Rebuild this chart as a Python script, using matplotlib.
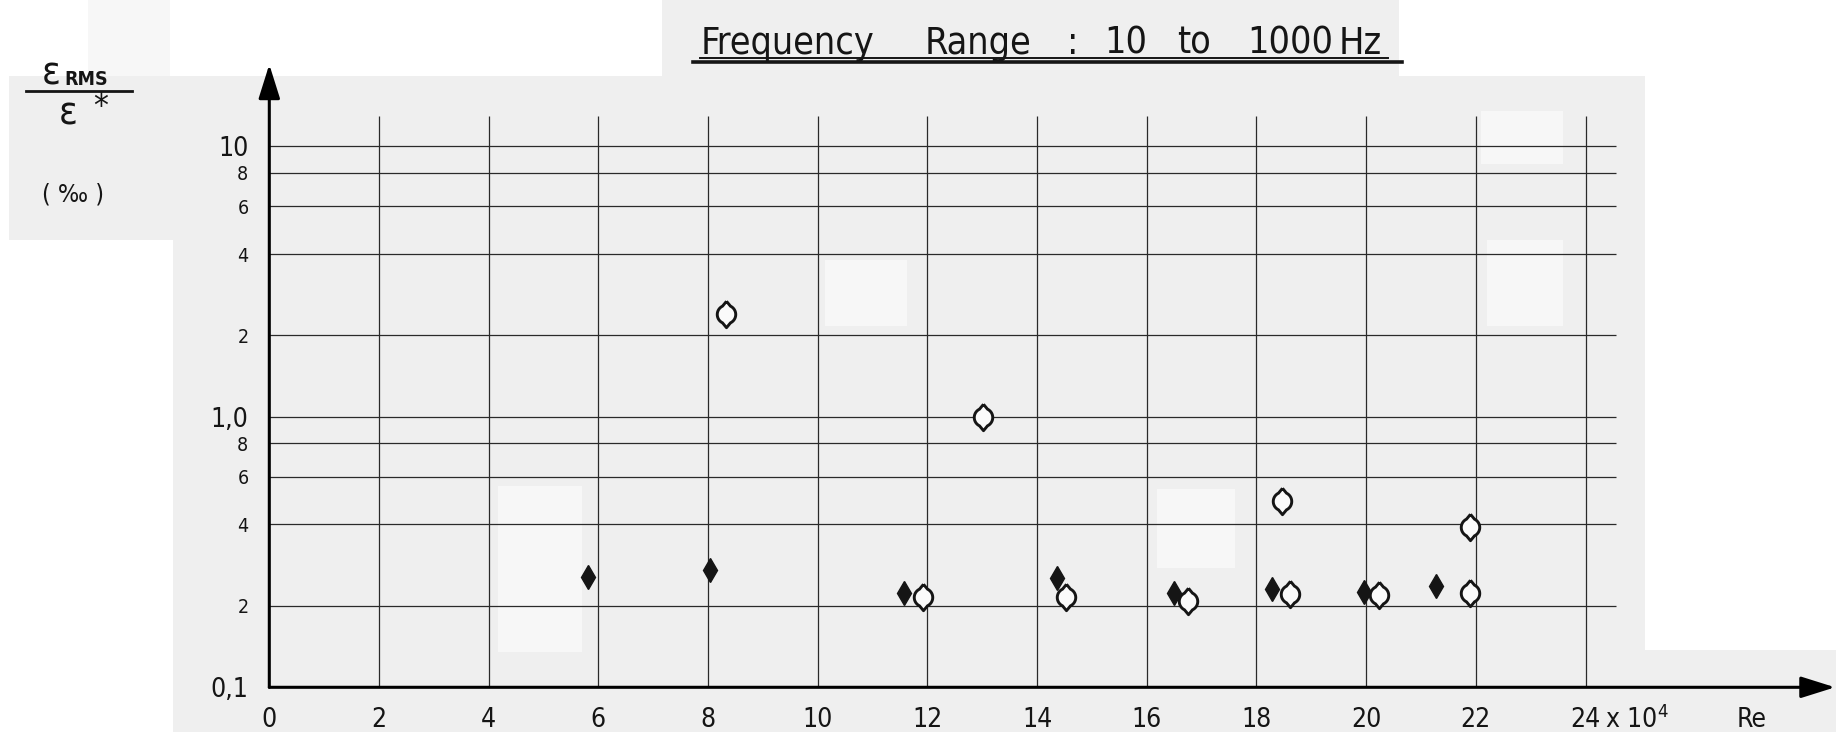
import numpy as np
import matplotlib
matplotlib.use("Agg")
import matplotlib.pyplot as plt
from matplotlib.patches import Rectangle

# Re (x 10^4) et rapport eps_RMS / eps* (en pour mille)
re_pleins = [5.81, 8.03, 11.58, 14.36, 16.50, 18.29, 19.96, 21.28]
eps_pleins = [0.255, 0.271, 0.224, 0.253, 0.224, 0.231, 0.226, 0.236]

re_vides = [8.33, 13.01, 11.92, 14.53, 16.75, 18.46, 18.61, 20.24, 21.90, 21.90]
eps_vides = [2.40, 1.00, 0.216, 0.216, 0.209, 0.488, 0.222, 0.220, 0.392, 0.224]

x_ticks = [0, 2, 4, 6, 8, 10, 12, 14, 16, 18, 20, 22, 24]
x_labels = ['0', '2', '4', '6', '8', '10', '12', '14', '16', '18', '20', '22', '24']
y_ticks = [0.1, 0.2, 0.4, 0.6, 0.8, 1, 2, 4, 6, 8, 10]
y_labels = ['0,1', '2', '4', '6', '8', '1,0', '2', '4', '6', '8', '10']
y_grands = ['0,1', '1,0', '10']

titre_mots = ['Frequency', 'Range', ':', '10', 'to', '1000', 'Hz']

plt.rcParams['font.family'] = ['DejaVu Sans']
plt.rcParams['font.stretch'] = 'condensed'
plt.rcParams['mathtext.default'] = 'regular'

W, H = 1836, 754
f = W / 1568


def px(xd):
    # coordonnée x de l'image réduite -> fraction de figure
    return xd * f / W


def py(yd):
    return 1 - yd * f / H


fig = plt.figure(figsize=(W / 100, H / 100), dpi=100)
fig.patch.set_facecolor('white')

# fond gris du scan (rectangles en coordonnées de l'image réduite)
gris = '#efefef'
clair = '#f7f7f7'
fonds = [
    (148, 65, 1405, 625, gris),
    (8, 65, 148, 205, gris),
    (565, 0, 1195, 65, gris),
    (1405, 555, 1568, 625, gris),
    (705, 222, 775, 278, clair),
    (425, 415, 497, 557, clair),
    (988, 418, 1055, 485, clair),
    (1265, 95, 1335, 140, clair),
    (1270, 205, 1335, 278, clair),
    (75, 0, 145, 65, clair),
]
for x0, y0, x1, y1, c in fonds:
    fig.add_artist(Rectangle((px(x0), py(y1)), px(x1) - px(x0), py(y0) - py(y1),
                             transform=fig.transFigure, facecolor=c, edgecolor='none', zorder=-10))

ax = fig.add_axes([0.14668, 0.08846, 0.8528, 0.8261])
ax.patch.set_visible(False)
ax.set_yscale('log')
ax.set_xlim(0, 28.55)
ax.set_ylim(0.1, 20.1)
for s in ax.spines.values():
    s.set_visible(False)

# grille
ax.vlines(x_ticks[1:], 0.1, 13, color='#2a2a2a', lw=0.9, zorder=1)
ax.hlines(y_ticks[1:], 0, 24.56, color='#2a2a2a', lw=0.9, zorder=1)

# axes fléchés
fleche = dict(arrowstyle='-|>,head_length=0.7,head_width=0.22', color='black', lw=2.2,
              shrinkA=0, shrinkB=0, mutation_scale=30)
ax.annotate('', xy=(28.55, 0.1), xytext=(0, 0.1), arrowprops=fleche, annotation_clip=False)
ax.annotate('', xy=(0, 20.1), xytext=(0, 0.1), arrowprops=fleche, annotation_clip=False)

# marqueur ouvert : cercle avec pointes en haut et en bas
r = 0.7
verts = [(0.0, 1.0)]
for a in np.linspace(np.pi / 2 + 0.45, 3 * np.pi / 2 - 0.45, 30):
    verts.append((r * np.cos(a), r * np.sin(a)))
verts.append((0.0, -1.0))
for a in np.linspace(-np.pi / 2 + 0.45, np.pi / 2 - 0.45, 30):
    verts.append((r * np.cos(a), r * np.sin(a)))
verts.append((0.0, 1.0))

ax.plot(re_pleins, eps_pleins, linestyle='none', marker='d', markersize=12.7,
        color='#151515', zorder=5, clip_on=False)
ax.plot(re_vides, eps_vides, linestyle='none', marker=verts, markersize=19,
        markerfacecolor='#fafafa', markeredgecolor='#151515', markeredgewidth=2.1,
        zorder=6, clip_on=False)

# graduations
ax.set_xticks(x_ticks, x_labels)
ax.set_yticks(y_ticks, y_labels)
ax.minorticks_off()
ax.tick_params(axis='x', length=0, pad=14, labelsize=19, labelcolor='#151515')
ax.tick_params(axis='y', length=0, pad=15, labelsize=14, labelcolor='#151515')
for t in ax.get_yticklabels():
    if t.get_text() in y_grands:
        t.set_fontsize(19)

fig.text(px(1371), py(615), 'x 10$^4$', fontsize=19, va='center', ha='left', color='#151515')
fig.text(px(1483), py(615), 'Re', fontsize=19, va='center', ha='left', color='#151515')

# libellé de l'axe vertical
fig.text(px(44), py(63), 'ε', fontsize=28, ha='center', va='center', color='#151515')
fig.text(px(55), py(68), 'RMS', fontsize=14, fontweight='bold', ha='left', va='center', color='#151515')
fig.add_artist(plt.Line2D([px(22), px(113)], [py(78), py(78)], color='#151515', lw=2,
                          transform=fig.transFigure))
fig.text(px(58), py(97), 'ε', fontsize=28, ha='center', va='center', color='#151515')
fig.text(px(86), py(92), '*', fontsize=24, ha='center', va='center', color='#151515')
fig.text(px(62), py(166), '( ‰ )', fontsize=18, ha='center', va='center', color='#151515')

# titre souligné
pos_mots = [598, 790, 911, 943, 1005, 1065, 1143]
for mot, xm in zip(titre_mots, pos_mots):
    fig.text(px(xm), py(46), mot, fontsize=27, ha='left', va='baseline', color='#151515')
fig.add_artist(plt.Line2D([px(598), px(1185)], [py(49.5), py(49.5)], color='#151515', lw=1.4,
                          transform=fig.transFigure))
fig.add_artist(plt.Line2D([px(592), px(1197)], [py(53), py(53)], color='#151515', lw=2.6,
                          transform=fig.transFigure))

fig.savefig('out.png', dpi=100, facecolor=fig.get_facecolor())
